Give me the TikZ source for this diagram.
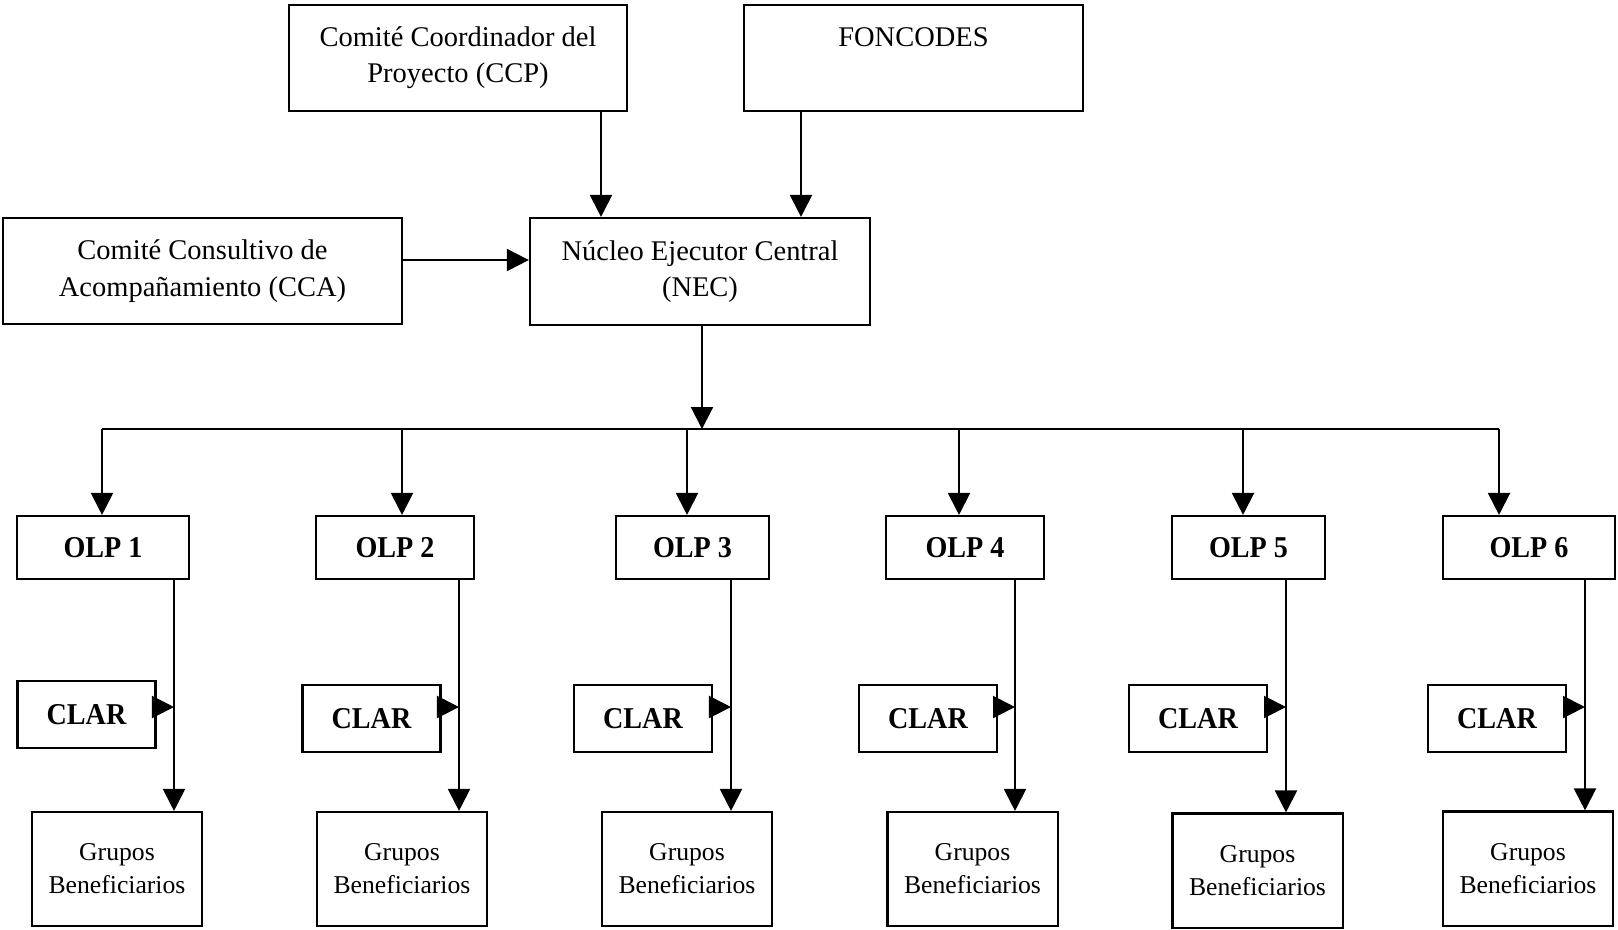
\documentclass[tikz,border=0pt]{standalone}
\usepackage{fontspec}
\setmainfont{Liberation Serif}[BoldFeatures={FakeStretch=0.93}]
\usetikzlibrary{arrows.meta, calc}

\begin{document}
\begin{tikzpicture}[x=0.01cm, y=-0.01cm, >={Triangle[length=2.2mm, width=2.2mm]}, line width=0.6pt]
	\tikzstyle{box} = [draw=black, line width=0.6pt, rectangle, inner sep=0pt, align=center, font=\fontsize{8.1pt}{10.3pt}\selectfont]
	\tikzstyle{olp} = [box, minimum height=0.63cm, font=\bfseries\fontsize{8.6pt}{10pt}\selectfont]
	\tikzstyle{clar} = [box, minimum width=1.38cm, minimum height=0.67cm, font=\bfseries\fontsize{8.6pt}{10pt}\selectfont]
	\tikzstyle{grupo} = [box, minimum width=1.70cm, minimum height=1.14cm, font=\fontsize{7.3pt}{9.4pt}\selectfont]

	\useasboundingbox (0,0) rectangle (1618,929);

	% top level
	\node[box, minimum width=3.38cm, minimum height=1.06cm] at (458, 58)	(ccp)	{Comité Coordinador del\\Proyecto (CCP)};
	\node[box, minimum width=3.39cm, minimum height=1.06cm] at (913.5, 58)	(fonc)	{FONCODES\\\vphantom{(}};
	\node[box, minimum width=3.99cm, minimum height=1.06cm] at (202.5, 271)	(cca)	{Comité Consultivo de\\Acompañamiento (CCA)};
	\node[box, minimum width=3.40cm, minimum height=1.07cm] at (700, 271.5)	(nec)	{Núcleo Ejecutor Central\\(NEC)};

	% OLP row
	\node[olp, minimum width=1.72cm] at (103, 547.5)	(olp1)	{OLP 1};
	\node[olp, minimum width=1.58cm] at (395, 547.5)	(olp2)	{OLP 2};
	\node[olp, minimum width=1.53cm] at (692.5, 547.5)	(olp3)	{OLP 3};
	\node[olp, minimum width=1.58cm] at (965, 547.5)	(olp4)	{OLP 4};
	\node[olp, minimum width=1.53cm] at (1248.5, 547.5)	(olp5)	{OLP 5};
	\node[olp, minimum width=1.72cm] at (1529, 547.5)	(olp6)	{OLP 6};

	% CLAR row
	\node[clar] at (86.5, 714.5)	(clar1)	{CLAR};
	\node[clar] at (371.5, 718.5)	(clar2)	{CLAR};
	\node[clar] at (643, 718.5)		(clar3)	{CLAR};
	\node[clar] at (928, 718.5)		(clar4)	{CLAR};
	\node[clar] at (1198, 718.5)	(clar5)	{CLAR};
	\node[clar] at (1497, 718.5)	(clar6)	{CLAR};

	% Grupos row
	\node[grupo] at (117, 869)		(grp1)	{Grupos\\Beneficiarios};
	\node[grupo] at (402, 869)		(grp2)	{Grupos\\Beneficiarios};
	\node[grupo] at (687, 869)		(grp3)	{Grupos\\Beneficiarios};
	\node[grupo] at (972.5, 869)	(grp4)	{Grupos\\Beneficiarios};
	\node[grupo] at (1257.5, 870.5)	(grp5)	{Grupos\\Beneficiarios};
	\node[grupo] at (1528, 868.5)	(grp6)	{Grupos\\Beneficiarios};

	% bus branch points
	\coordinate (b1) at (102, 429);
	\coordinate (b2) at (402, 429);
	\coordinate (b3) at (687, 429);
	\coordinate (b4) at (959, 429);
	\coordinate (b5) at (1243, 429);
	\coordinate (b6) at (1499, 429);

	% CLAR joints on the OLP lines
	\coordinate (k1) at (174, 707);
	\coordinate (k2) at (459, 707);
	\coordinate (k3) at (731, 707);
	\coordinate (k4) at (1015, 707);
	\coordinate (k5) at (1286, 707);
	\coordinate (k6) at (1585, 707);

	\draw[->] (ccp.south -| 601,0) -- (nec.north -| 601,0);
	\draw[->] (fonc.south -| 801,0) -- (nec.north -| 801,0);
	\draw[->] (cca.east |- 0,260) -- (nec.west |- 0,260);
	\draw[->] (nec.south -| 702,0) -- (702, 429);
	\draw (b1) -- (b6);

	\foreach \n in {1,...,6} {
		\draw[->] (b\n) -- (b\n |- olp\n.north);
		\draw[->] (olp\n.south -| k\n) -- (grp\n.north -| k\n);
		\draw[->] (clar\n.east |- k\n) -- (k\n);
	}
\end{tikzpicture}
\end{document}
